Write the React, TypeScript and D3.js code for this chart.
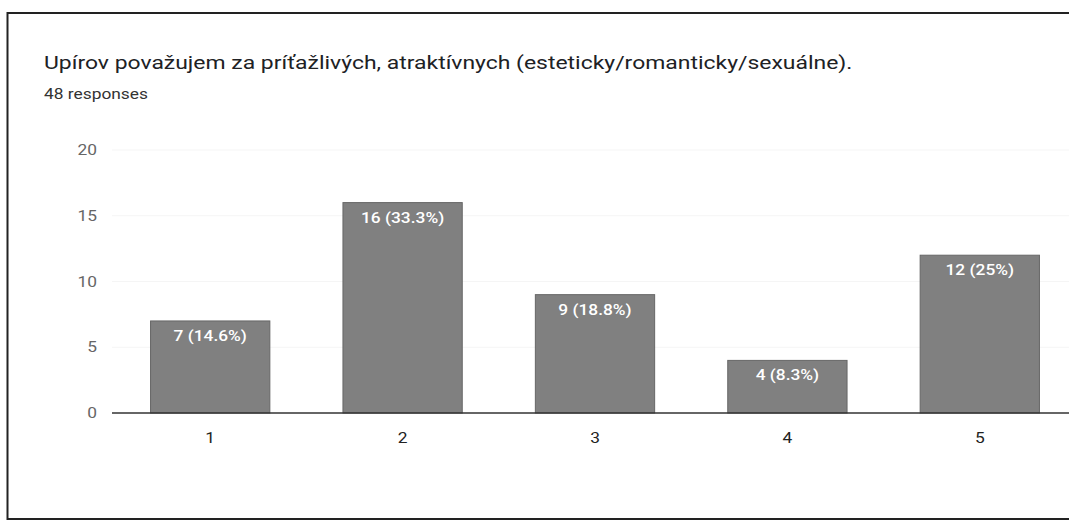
import React from "react";
import * as d3 from "d3";

const categories = ["1", "2", "3", "4", "5"];
const counts = [7, 16, 9, 4, 12];
const percents = ["14.6%", "33.3%", "18.8%", "8.3%", "25%"];
const yTicks = [0, 5, 10, 15, 20];
const title = "Upírov považujem za príťažlivých, atraktívnych (esteticky/romanticky/sexuálne).";
const subtitle = "48 responses";

const SX = 1.24;

function T(props: { x: number; y: number; size: number; fill: string; anchor?: string; weight?: number; children: React.ReactNode }) {
  return (
    <text
      transform={`translate(${props.x},${props.y}) scale(${SX},1)`}
      fontSize={props.size}
      fill={props.fill}
      textAnchor={props.anchor || "start"}
      fontWeight={props.weight || 400}
    >
      {props.children}
    </text>
  );
}

export default function App() {
  const W = 1069;
  const H = 525;
  const x = d3.scaleBand<string>().domain(categories).range([114, 1076]).paddingInner(0.38).paddingOuter(0.19);
  const y = d3.scaleLinear().domain([0, 20]).range([413, 150]);
  const font = "Roboto, 'Noto Sans', Arial, sans-serif";
  return (
    <svg width={W} height={H} style={{ position: "absolute", left: 0, top: 0, background: "#fff" }} fontFamily={font}>
      <rect x={7.5} y={13} width={1080} height={506} fill="#fff" stroke="#222" strokeWidth={2} />
      <T x={44} y={69} size={18.5} fill="#202124">{title}</T>
      <T x={44} y={99} size={14} fill="#333">{subtitle}</T>
      {yTicks.map((t) => (
        <g key={t}>
          {t !== 0 && <line x1={112} x2={W} y1={y(t)} y2={y(t)} stroke="#f5f5f5" strokeWidth={1} />}
          <T x={97} y={y(t) + 5} size={14} fill="#666" anchor="end">{t}</T>
        </g>
      ))}
      {categories.map((c, i) => (
        <g key={c}>
          <rect x={x(c)} y={y(counts[i])} width={x.bandwidth()} height={y(0) - y(counts[i])} fill="#808080" stroke="#666" strokeWidth={1} />
          <T x={(x(c) as number) + x.bandwidth() / 2} y={y(counts[i]) + 20} size={14} fill="#fff" anchor="middle" weight={500}>
            {`${counts[i]} (${percents[i]})`}
          </T>
          <T x={(x(c) as number) + x.bandwidth() / 2} y={443} size={14} fill="#222" anchor="middle">{c}</T>
        </g>
      ))}
      <line x1={112} x2={W} y1={y(0)} y2={y(0)} stroke="#333" strokeWidth={1.5} />
    </svg>
  );
}
